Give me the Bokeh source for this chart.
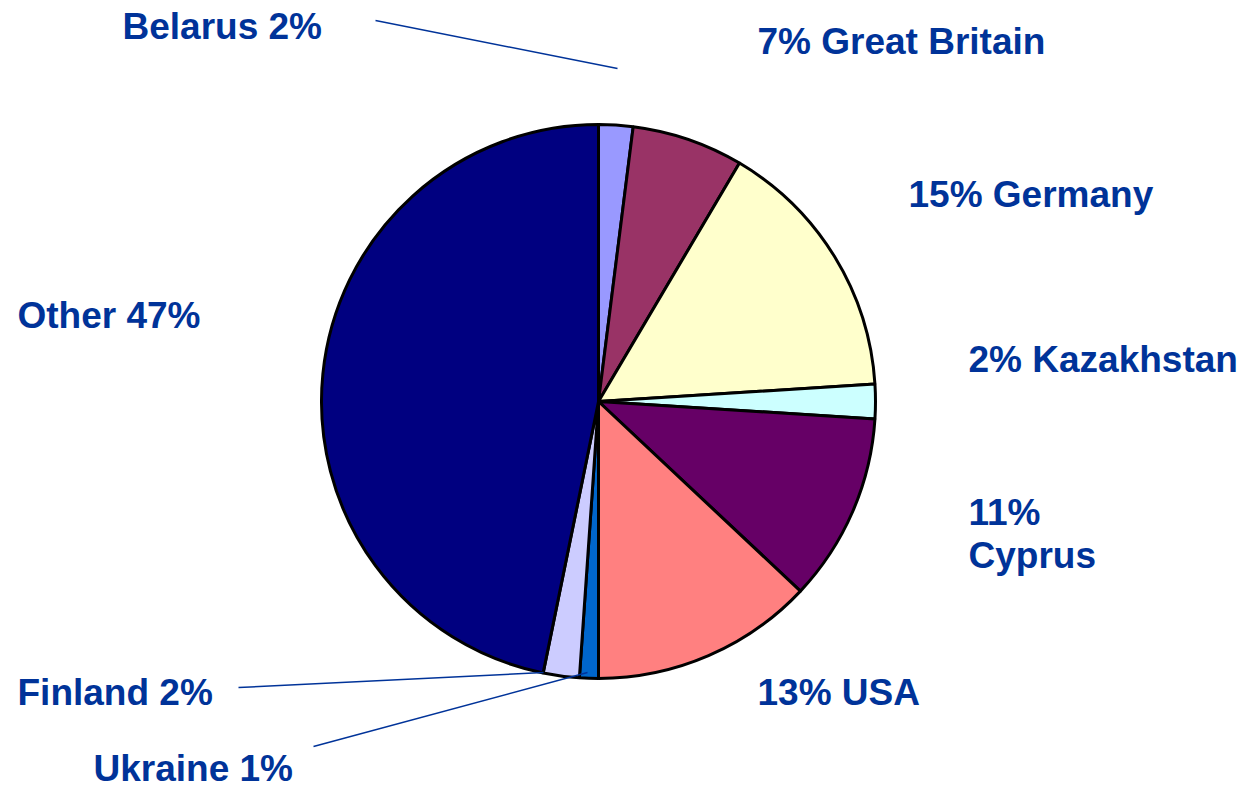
import math
from bokeh.plotting import figure
from bokeh.models import Range1d, ColumnDataSource
from bokeh.core.properties import value
from bokeh.embed import file_html
from bokeh.resources import INLINE

countries = ["Belarus", "Great Britain", "Germany", "Kazakhstan", "Cyprus",
             "USA", "Ukraine", "Finland", "Other"]
shares = [2.0, 6.5, 15.5, 2.0, 11.0, 13.0, 1.1, 2.1, 46.8]
colors = ["#9999FF", "#993366", "#FFFFCC", "#CCFFFF", "#660066",
          "#FF8080", "#0066CC", "#CCCCFF", "#000080"]
label_texts = ["Belarus 2%", "7% Great Britain", "15% Germany", "2% Kazakhstan",
               "11%\nCyprus", "13% USA", "Ukraine 1%", "Finland 2%", "Other 47%"]
source_note = "Source: Goskomstat 2004"

W, H = 1240, 788
TXT = "#003399"

p = figure(width=W, height=H, output_backend="svg", toolbar_location=None,
           x_range=Range1d(0, W), y_range=Range1d(0, H),
           min_border=0, match_aspect=False)
p.axis.visible = False
p.grid.visible = False
p.outline_line_color = None
p.background_fill_color = "white"
p.border_fill_color = "white"

def Y(img_y):
    return H - img_y

total = sum(shares)
starts, ends = [], []
cum = 0.0
for v in shares:
    starts.append(math.pi / 2 - 2 * math.pi * cum / total)
    cum += v
    ends.append(math.pi / 2 - 2 * math.pi * cum / total)

cx, cy, r = 598, Y(401), 277
src = ColumnDataSource(dict(start=starts, end=ends, color=colors, country=countries))
p.wedge(x=cx, y=cy, radius=r, start_angle="start", end_angle="end",
        direction="clock", fill_color="color", line_color="black",
        line_width=3, source=src)

# leader lines
p.line([375, 617], [Y(20), Y(68)], line_color=TXT, line_width=1.5)
p.line([238, 543], [Y(687), Y(672)], line_color=TXT, line_width=1.5)
p.line([313, 587], [Y(746), Y(672)], line_color=TXT, line_width=1.5)

# labels (left x, middle y in image pixels)
pos = {
    "Belarus": (122, 26),
    "Great Britain": (757, 41),
    "Germany": (908, 194),
    "Kazakhstan": (968, 359),
    "USA": (757, 692),
    "Ukraine": (93, 768),
    "Finland": (17, 692),
    "Other": (17, 315),
}
lx, ly, lt = [], [], []
for c, t in zip(countries, label_texts):
    if c == "Cyprus":
        lx += [968, 968]
        ly += [Y(512), Y(555)]
        lt += ["11%", "Cyprus"]
    else:
        x0, y0 = pos[c]
        lx.append(x0)
        ly.append(Y(y0))
        lt.append(t)

p.text(x=lx, y=ly, text=lt, text_font=value("Liberation Sans"),
       text_font_style="bold", text_font_size="37px", text_color=TXT,
       text_align="left", text_baseline="middle")

p.text(x=[850], y=[Y(805)], text=[source_note],
       text_font=value("Liberation Sans"), text_font_size="32px",
       text_color=TXT, text_align="left", text_baseline="alphabetic")

open("out.html", "w").write(file_html(p, INLINE))
